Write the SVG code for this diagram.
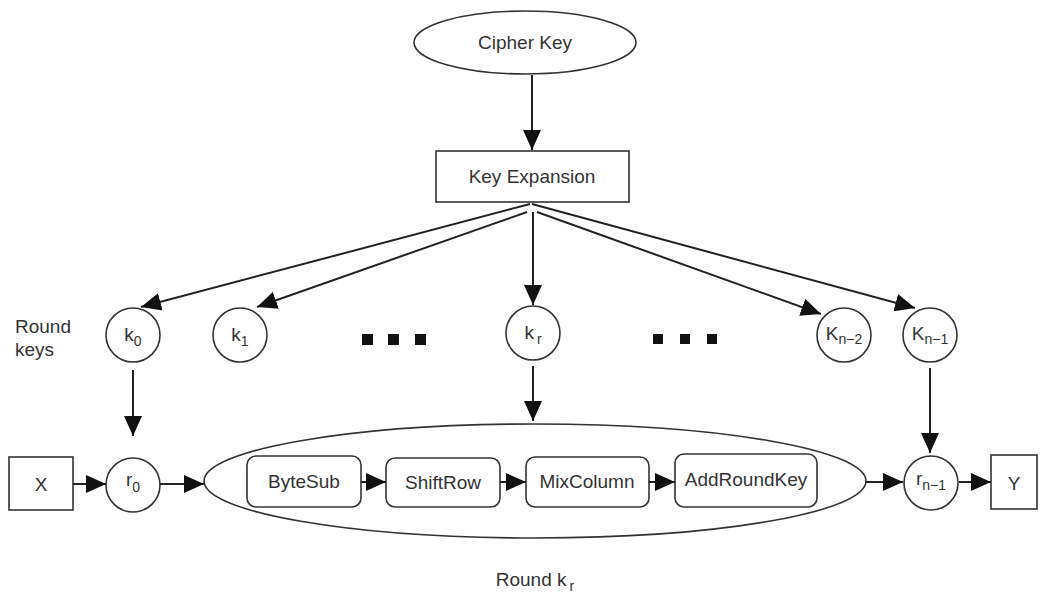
<svg xmlns="http://www.w3.org/2000/svg" width="1044" height="592" viewBox="0 0 1044 592">
<defs>
<marker id="ah" markerUnits="userSpaceOnUse" markerWidth="22" markerHeight="18" refX="20" refY="9" orient="auto">
<path d="M0,0 L20,9 L0,18 Z" fill="#111"/>
</marker>
</defs>
<style>
.sh{fill:#fff;stroke:#333;stroke-width:1.6}
.t{font-family:"Liberation Sans",Arial,sans-serif;font-size:19px;fill:#333;text-anchor:middle}
.s{font-size:14px}
.c{fill:none;stroke:#222;stroke-width:2;marker-end:url(#ah)}
.dot{fill:#111}
</style>
<rect width="1044" height="592" fill="#fff"/>
<g id="cipher-key"><ellipse class="sh" cx="525" cy="42.5" rx="111" ry="31.5"/><text class="t" x="525" y="49">Cipher Key</text></g>
<g id="key-expansion"><rect class="sh" x="436" y="151" width="193" height="51"/><text class="t" x="532" y="183">Key Expansion</text></g>
<g id="round-keys-label"><text class="t" x="15" y="333" style="text-anchor:start">Round</text><text class="t" x="15" y="356" style="text-anchor:start">keys</text></g>
<g id="k0"><circle class="sh" cx="133" cy="335" r="27"/><text class="t" x="133" y="341">k<tspan class="s" dy="5">0</tspan></text></g>
<g id="k1"><circle class="sh" cx="240" cy="335" r="27"/><text class="t" x="240" y="341">k<tspan class="s" dy="5">1</tspan></text></g>
<g id="dots-left"><rect class="dot" x="362" y="334" width="11" height="11"/><rect class="dot" x="388" y="334" width="11" height="11"/><rect class="dot" x="415" y="334" width="11" height="11"/></g>
<g id="kr"><circle class="sh" cx="533" cy="333" r="27"/><text class="t" x="533" y="339">k<tspan class="s" dx="3" dy="5">r</tspan></text></g>
<g id="dots-right"><rect class="dot" x="653" y="334" width="10" height="10"/><rect class="dot" x="680" y="334" width="10" height="10"/><rect class="dot" x="707" y="334" width="10" height="10"/></g>
<g id="kn-2"><circle class="sh" cx="844" cy="335" r="27"/><text class="t" x="844" y="340">K<tspan class="s" dy="4">n−2</tspan></text></g>
<g id="kn-1"><circle class="sh" cx="930" cy="335" r="27"/><text class="t" x="930" y="340">K<tspan class="s" dy="4">n−1</tspan></text></g>
<g id="x"><rect class="sh" x="9" y="457" width="64" height="53"/><text class="t" x="41" y="491">X</text></g>
<g id="r0"><circle class="sh" cx="133" cy="485" r="27"/><text class="t" x="133" y="486">r<tspan class="s" dy="6">0</tspan></text></g>
<g id="round-kr"><ellipse class="sh" cx="535" cy="481" rx="331" ry="57"/><text class="t" x="535" y="586">Round  k<tspan class="s" dx="3" dy="5">r</tspan></text></g>
<g id="bytesub"><rect class="sh" x="247" y="456" width="114" height="51" rx="9"/><text class="t" x="304" y="488">ByteSub</text></g>
<g id="shiftrow"><rect class="sh" x="386" y="458" width="114" height="49" rx="9"/><text class="t" x="443" y="489">ShiftRow</text></g>
<g id="mixcolumn"><rect class="sh" x="526" y="457" width="123" height="50" rx="9"/><text class="t" x="587" y="488">MixColumn</text></g>
<g id="addroundkey"><rect class="sh" x="675" y="454" width="142" height="53" rx="9"/><text class="t" x="746" y="486">AddRoundKey</text></g>
<g id="rn-1"><circle class="sh" cx="931" cy="483" r="27"/><text class="t" x="931" y="485">r<tspan class="s" dy="5">n−1</tspan></text></g>
<g id="y"><rect class="sh" x="991" y="455" width="46" height="54"/><text class="t" x="1014" y="490">Y</text></g>
<g id="connectors">
<line class="c" x1="532" y1="75" x2="532" y2="150"/>
<line class="c" x1="530" y1="204" x2="141" y2="307"/>
<line class="c" x1="527" y1="212" x2="257" y2="307"/>
<line class="c" x1="533" y1="212" x2="533" y2="305"/>
<line class="c" x1="537" y1="212" x2="821" y2="314"/>
<line class="c" x1="532" y1="204" x2="915" y2="308"/>
<line class="c" x1="133" y1="370" x2="133" y2="436"/>
<line class="c" x1="533" y1="366" x2="533" y2="421"/>
<line class="c" x1="930" y1="368" x2="930" y2="453"/>
<line class="c" x1="73" y1="484" x2="106" y2="484"/>
<line class="c" x1="160" y1="484" x2="204" y2="484"/>
<line class="c" x1="361" y1="482" x2="386" y2="482"/>
<line class="c" x1="500" y1="482" x2="526" y2="482"/>
<line class="c" x1="649" y1="482" x2="675" y2="482"/>
<line class="c" x1="866" y1="482" x2="903" y2="482"/>
<line class="c" x1="959" y1="482" x2="991" y2="482"/>
</g>
</svg>
